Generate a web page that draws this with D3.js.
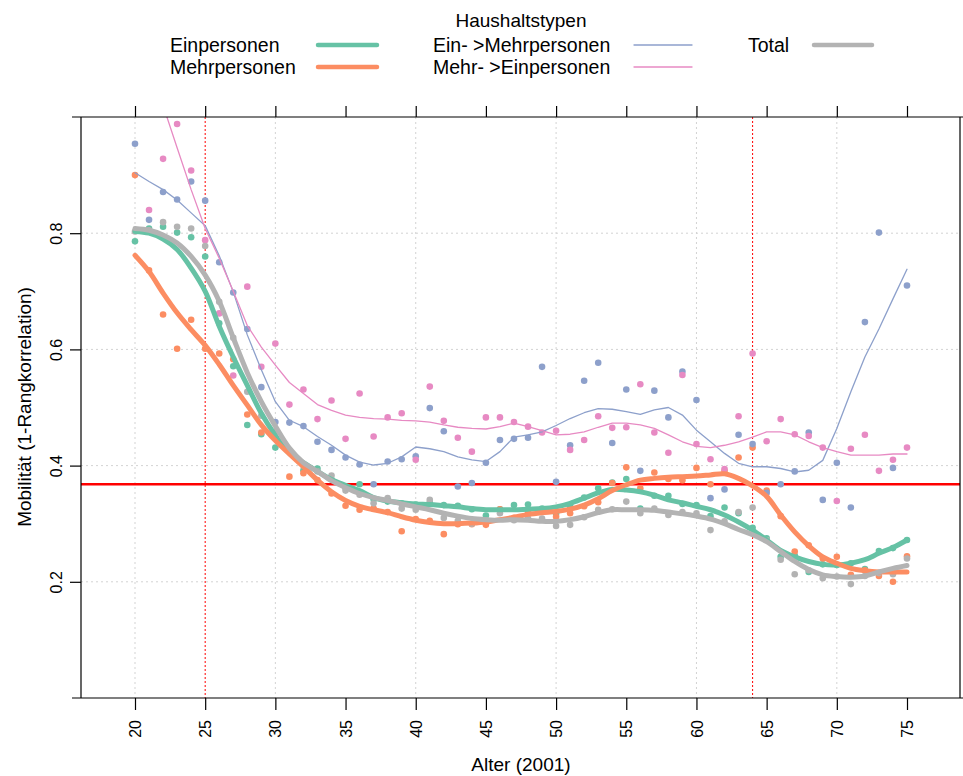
<!DOCTYPE html>
<html><head><meta charset="utf-8">
<script src="https://cdn.jsdelivr.net/npm/d3@7"></script>
<style>
body{margin:0;background:#fff;}
text{font-family:"Liberation Sans",Arial,Helvetica,sans-serif;fill:#000;}
</style></head>
<body><svg id="chart" width="963" height="776"></svg>
<script>
// ---------- DATA ----------
const ages = [20,21,22,23,24,25,26,27,28,29,30,31,32,33,34,35,36,37,38,39,40,41,42,43,44,45,46,47,48,49,50,51,52,53,54,55,56,57,58,59,60,61,62,63,64,65,66,67,68,69,70,71,72,73,74,75];
const xTicks = [20,25,30,35,40,45,50,55,60,65,70,75];
const xGrid = [20,30,40,50,60,70];
const yTicks = [0.2,0.4,0.6,0.8];
const redVLines = [25,64];
const redHLine = 0.3679;

const seriesNames = ["Einpersonen","Mehrpersonen","Ein- >Mehrpersonen","Mehr- >Einpersonen","Total"];

// points
const ptEin = [0.786,0.808,0.811,0.801,0.793,0.760,0.645,0.571,0.470,0.454,
 0.431,0.425,0.392,0.395,0.376,0.362,0.368,0.342,0.338,0.335,
 0.333,0.336,0.332,0.331,0.325,0.314,0.325,0.332,0.333,0.326,
 0.317,0.330,0.345,0.361,0.371,0.377,0.326,0.348,0.348,0.334,
 0.332,0.313,0.328,0.318,0.293,0.275,0.243,0.245,0.217,0.230,
 0.229,0.232,0.222,0.253,0.258,0.272];
const ptMehr = [0.900,0.736,0.660,0.601,0.651,0.601,0.593,0.583,0.488,0.457,
 0.458,0.381,0.387,0.375,0.352,0.331,0.324,0.326,0.320,0.287,
 0.308,0.305,0.282,0.299,0.299,0.298,0.325,0.310,0.319,0.322,
 0.312,0.318,0.330,0.337,0.370,0.397,0.361,0.388,0.377,0.375,
 0.396,0.368,0.391,0.414,0.431,0.357,0.313,0.252,0.263,0.240,
 0.243,0.212,0.220,0.210,0.200,0.244];
const ptEinMehr = [0.954,0.823,0.871,0.858,0.889,0.856,0.750,0.698,0.635,0.535,
 0.475,0.474,0.468,0.441,0.427,0.414,0.402,0.368,0.407,0.411,
 0.416,0.499,0.459,0.364,0.370,0.405,0.444,0.446,0.448,0.570,
 0.372,0.435,0.546,0.577,0.439,0.531,0.391,0.529,0.483,0.562,
 0.513,0.344,0.359,0.453,0.437,0.353,0.368,0.390,0.457,0.341,
 0.405,0.328,0.647,0.801,0.396,0.710];
const ptMehrEin = [null,0.840,0.928,0.988,0.908,0.788,0.662,0.555,0.708,0.570,
 0.610,0.505,0.531,0.480,0.512,0.446,0.524,0.450,0.483,0.490,
 0.410,0.536,0.477,0.448,0.424,0.483,0.483,0.475,0.467,0.457,
 0.460,0.427,0.444,0.485,0.465,0.466,0.540,0.457,0.422,0.556,
 0.437,0.411,0.394,0.485,0.593,0.442,0.480,0.454,0.451,0.431,
 0.339,0.429,0.453,0.391,0.410,0.431];
const ptTotal = [0.803,0.805,0.819,0.811,0.808,0.778,0.682,0.620,0.527,0.486,
 0.457,0.426,0.400,0.390,0.383,0.357,0.350,0.335,0.344,0.326,
 0.324,0.341,0.310,0.305,0.300,0.306,0.318,0.306,0.309,0.309,
 0.296,0.298,0.311,0.324,0.325,0.338,0.318,0.326,0.315,0.320,
 0.318,0.289,0.304,0.320,0.328,0.272,0.238,0.213,0.220,0.206,
 0.209,0.196,0.210,0.215,0.213,0.240];

// smoothed lines
const lnEin = [0.803,0.800,0.790,0.772,0.740,0.700,0.640,0.587,0.538,0.490,
 0.452,0.421,0.405,0.390,0.376,0.366,0.357,0.345,0.339,0.336,
 0.334,0.333,0.331,0.329,0.326,0.324,0.324,0.324,0.325,0.326,
 0.329,0.335,0.344,0.353,0.359,0.358,0.355,0.349,0.341,0.336,
 0.330,0.324,0.315,0.303,0.289,0.272,0.254,0.243,0.235,0.230,
 0.229,0.232,0.238,0.249,0.259,0.272];
const lnMehr = [0.762,0.734,0.697,0.663,0.634,0.607,0.574,0.538,0.504,0.470,
 0.443,0.420,0.398,0.375,0.355,0.340,0.330,0.324,0.319,0.312,
 0.306,0.302,0.300,0.300,0.301,0.303,0.307,0.311,0.316,0.319,
 0.321,0.325,0.332,0.343,0.357,0.367,0.375,0.378,0.380,0.381,
 0.382,0.384,0.386,0.378,0.365,0.347,0.315,0.286,0.262,0.243,
 0.232,0.223,0.219,0.217,0.217,0.217];
const lnEinMehr = [0.904,0.889,0.875,0.857,0.835,0.813,0.761,0.699,0.625,0.565,
 0.510,0.478,0.467,0.450,0.435,0.418,0.406,0.401,0.404,0.415,
 0.432,0.429,0.424,0.415,0.410,0.407,0.424,0.449,0.453,0.458,
 0.469,0.481,0.491,0.498,0.497,0.493,0.488,0.496,0.500,0.487,
 0.461,0.441,0.421,0.404,0.398,0.398,0.395,0.389,0.392,0.409,
 0.464,0.527,0.587,0.635,0.687,0.738];
const lnMehrEin = [1.16,1.09,1.02,0.947,0.875,0.808,0.757,0.700,0.641,0.604,
 0.573,0.543,0.524,0.505,0.495,0.487,0.483,0.481,0.480,0.478,
 0.477,0.475,0.470,0.466,0.464,0.463,0.467,0.473,0.467,0.460,
 0.453,0.454,0.458,0.466,0.473,0.473,0.470,0.464,0.453,0.441,
 0.433,0.431,0.435,0.441,0.449,0.458,0.458,0.453,0.441,0.431,
 0.424,0.418,0.418,0.418,0.420,0.420];
const lnTotal = [0.808,0.805,0.797,0.783,0.760,0.728,0.683,0.620,0.560,0.510,
 0.468,0.430,0.405,0.390,0.374,0.362,0.352,0.345,0.340,0.334,
 0.329,0.324,0.318,0.313,0.309,0.307,0.306,0.307,0.306,0.304,
 0.304,0.307,0.312,0.319,0.324,0.324,0.324,0.323,0.320,0.317,
 0.313,0.308,0.300,0.290,0.281,0.269,0.252,0.235,0.221,0.212,
 0.209,0.208,0.210,0.217,0.223,0.228];

const colors = ["#66C2A5","#FC8D62","#8DA0CB","#E78AC3","#B3B3B3"];

// ---------- CHART ----------
const svg = d3.select("#chart");
const L = 81, R = 960, T = 117, B = 698;
const x = d3.scaleLinear().domain([20,75]).range([135,907]);
const y = d3.scaleLinear().domain([0,1]).range([B,T]);

svg.append("defs").append("clipPath").attr("id","clip")
  .append("rect").attr("x",L).attr("y",T).attr("width",R-L).attr("height",B-T);

// grid
const grid = svg.append("g");
grid.selectAll(".gx").data(xGrid).join("line")
  .attr("x1",d=>x(d)).attr("x2",d=>x(d)).attr("y1",T).attr("y2",B)
  .attr("stroke","#D3D3D3").attr("stroke-width",1).attr("stroke-dasharray","2,3");
grid.selectAll(".gy").data(yTicks).join("line")
  .attr("x1",L).attr("x2",R).attr("y1",d=>y(d)).attr("y2",d=>y(d))
  .attr("stroke","#D3D3D3").attr("stroke-width",1).attr("stroke-dasharray","2,3");

// red reference lines
svg.append("g").selectAll("line").data(redVLines).join("line")
  .attr("x1",d=>x(d)).attr("x2",d=>x(d)).attr("y1",T).attr("y2",B)
  .attr("stroke","#FF0000").attr("stroke-width",1).attr("stroke-dasharray","2,2");
svg.append("line").attr("x1",L).attr("x2",R).attr("y1",y(redHLine)).attr("y2",y(redHLine))
  .attr("stroke","#FF0000").attr("stroke-width",2.5);

const plot = svg.append("g").attr("clip-path","url(#clip)");
const pointSets = [ptEin, ptMehr, ptEinMehr, ptMehrEin, ptTotal];
const lineSets = [lnEin, lnMehr, lnEinMehr, lnMehrEin, lnTotal];
const thick = [true,true,false,false,true];

pointSets.forEach((arr,i)=>{
  plot.append("g").selectAll("circle")
    .data(ages.map((a,j)=>({a,v:arr[j]})).filter(d=>d.v!=null))
    .join("circle").attr("cx",d=>x(d.a)).attr("cy",d=>y(d.v)).attr("r",3.3)
    .attr("fill",colors[i]);
});
lineSets.forEach((arr,i)=>{
  const gen = d3.line().x(d=>x(d.a)).y(d=>y(d.v))
    .curve(thick[i] ? d3.curveCatmullRom.alpha(0.5) : d3.curveLinear);
  plot.append("path").datum(ages.map((a,j)=>({a,v:arr[j]})))
    .attr("d",gen).attr("fill","none").attr("stroke",colors[i])
    .attr("stroke-width",thick[i]?5:1.3)
    .attr("stroke-linecap","round").attr("stroke-linejoin","round");
});

// axes frame lines
const axc = "#000";
svg.append("line").attr("x1",72).attr("x2",963).attr("y1",T).attr("y2",T).attr("stroke",axc).attr("stroke-width",1.2);
svg.append("line").attr("x1",72).attr("x2",963).attr("y1",B).attr("y2",B).attr("stroke",axc).attr("stroke-width",1.2);
svg.append("line").attr("x1",L).attr("x2",L).attr("y1",T).attr("y2",B).attr("stroke",axc).attr("stroke-width",1.2);
svg.append("line").attr("x1",R).attr("x2",R).attr("y1",T).attr("y2",B).attr("stroke",axc).attr("stroke-width",1.2);

// bottom axis
const xb = svg.append("g").attr("transform",`translate(0,${B})`)
  .call(d3.axisBottom(x).tickValues(xTicks).tickSize(12).tickFormat(d3.format("d")));
xb.select(".domain").remove();
xb.selectAll("line").attr("stroke",axc).attr("stroke-width",1.2);
xb.selectAll("text").attr("transform","rotate(-90)").attr("text-anchor","end")
  .attr("x",-22).attr("y",0).attr("dy","0.35em")
  .style("font-size","16px").style("font-family","'Liberation Sans',Arial,sans-serif");

// top axis (ticks only)
const xt = svg.append("g").attr("transform",`translate(0,${T})`)
  .call(d3.axisTop(x).tickValues(xTicks).tickSize(11).tickFormat(""));
xt.select(".domain").remove();
xt.selectAll("line").attr("stroke",axc).attr("stroke-width",1.2);

// left axis
const yl = svg.append("g").attr("transform",`translate(${L},0)`)
  .call(d3.axisLeft(y).tickValues(yTicks).tickSize(11).tickFormat(d3.format(".1f")));
yl.select(".domain").remove();
yl.selectAll("line").attr("stroke",axc).attr("stroke-width",1.2);
yl.selectAll("text").attr("transform","rotate(-90)").attr("text-anchor","middle")
  .attr("x",0).attr("y",-19).attr("dy",0)
  .style("font-size","16px").style("font-family","'Liberation Sans',Arial,sans-serif");

// axis titles
svg.append("text").attr("x",521).attr("y",771).attr("text-anchor","middle")
  .style("font-size","19px").text("Alter (2001)");
svg.append("text").attr("transform","translate(24,407) rotate(-90)")
  .attr("text-anchor","middle").attr("dy","0.35em")
  .style("font-size","19px").text("Mobilität (1-Rangkorrelation)");

// legend
const lg = svg.append("g");
lg.append("text").attr("x",521).attr("y",27).attr("text-anchor","middle")
  .style("font-size","19px").text("Haushaltstypen");
const legendPos = [
  {tx:170, lx1:318, lx2:377, ly:45},
  {tx:170, lx1:318, lx2:377, ly:67},
  {tx:433, lx1:634, lx2:692, ly:45},
  {tx:433, lx1:634, lx2:692, ly:67},
  {tx:748, lx1:814, lx2:872, ly:45}
];
seriesNames.forEach((n,i)=>{
  const p = legendPos[i];
  lg.append("text").attr("x",p.tx).attr("y",p.ly+7).style("font-size","19.5px").text(n);
  lg.append("line").attr("x1",p.lx1).attr("x2",p.lx2).attr("y1",p.ly).attr("y2",p.ly)
    .attr("stroke",colors[i]).attr("stroke-width",thick[i]?4.5:1.3)
    .attr("stroke-linecap","round");
});
</script></body></html>
